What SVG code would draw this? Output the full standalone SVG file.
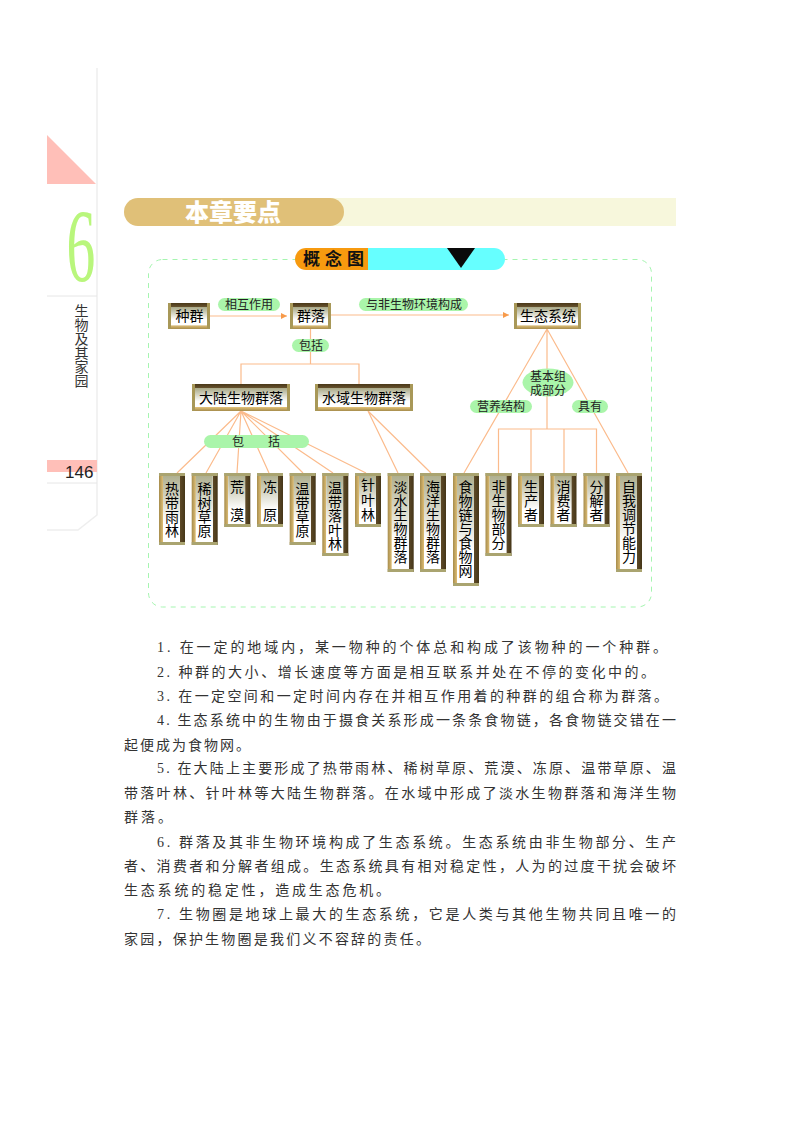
<svg xmlns="http://www.w3.org/2000/svg" width="800" height="1132" viewBox="0 0 800 1132">
<style>
text{font-family:"Noto Sans CJK SC","Liberation Sans",sans-serif;fill:#111}
.vb{fill:url(#vb)}.vs{fill:#aaa470}.vf{fill:url(#vf)}
.hb{fill:url(#hb)}.hs{fill:#a89858}.hf{fill:url(#hf)}
.vl{font-size:14px;font-weight:400;fill:#000;writing-mode:vertical-rl;text-orientation:upright}
.hl{font-size:14px;font-weight:400;fill:#000;text-anchor:middle}
.p{fill:#aaf5aa}
.pl{font-size:12px;text-anchor:middle;fill:#222}
.pw{font-family:"Liberation Sans","Noto Sans CJK SC",sans-serif}
.c{fill:none;stroke:#fbbb8c;stroke-width:1.200}
.b{font-family:"Liberation Serif","Noto Sans CJK SC",serif;font-size:14px;fill:#333}
.e{fill:none;stroke:#eeeeee;stroke-width:1.500}
</style>
<defs>
<linearGradient id="vb"><stop offset="0" stop-color="#a68c4c"/><stop offset=".15" stop-color="#dcbc74"/><stop offset=".16" stop-color="#eee"/><stop offset=".8" stop-color="#eee"/><stop offset=".81" stop-color="#5e4a28"/><stop offset="1" stop-color="#453618"/></linearGradient>
<linearGradient id="vf" x1="0" y1="0" x2="0" y2="1"><stop offset="0" stop-color="#b0b090"/><stop offset=".7" stop-color="#fff"/><stop offset="1" stop-color="#fff"/></linearGradient>
<linearGradient id="hb" x1="0" y1="0" x2="0" y2="1"><stop offset="0" stop-color="#4a3818"/><stop offset=".14" stop-color="#64502c"/><stop offset=".15" stop-color="#eee"/><stop offset=".86" stop-color="#eee"/><stop offset=".87" stop-color="#dcbc74"/><stop offset="1" stop-color="#a68c4c"/></linearGradient>
<linearGradient id="hf" x1="0" y1="0" x2="0" y2="1"><stop offset="0" stop-color="#a9a987"/><stop offset=".7" stop-color="#fff"/><stop offset="1" stop-color="#fff"/></linearGradient>
<marker id="ar" markerUnits="userSpaceOnUse" markerWidth="7" markerHeight="6" refX="6" refY="3" orient="auto"><path d="M0 0L6 3L0 6z" fill="#f79a4a"/></marker>
</defs>
<rect width="800" height="1132" fill="#fff"/>

<g id="sidebar">
<path class="e" d="M97 68V515L78 530H47"/>
<path d="M47 135L96 184H47z" fill="#ffbfb8"/>
<text transform="translate(66.500 281) scale(.6 1.08)" style="font-family:'Liberation Serif',serif;font-size:96px;fill:#b9f67c">6</text>
<path d="M47 296H97" stroke="#e6e6e6" fill="none"/>
<text x="81.500" y="304" style="font-size:14px;fill:#333;writing-mode:vertical-rl;text-orientation:upright">生物及其家园</text>
<rect x="47" y="460" width="50" height="12" fill="#ffbfb8"/>
<path d="M47 483H97" stroke="#e6e6e6" fill="none"/>
<text x="65" y="478" style="font-family:'Liberation Sans',sans-serif;font-size:17px;fill:#222">146</text>
</g>

<g id="header">
<rect x="300" y="198" width="376" height="28" fill="#f7f7dc"/>
<rect x="124" y="198" width="220" height="28" rx="14" fill="#e0c078"/>
<text x="185" y="221" style="font-size:24px;font-weight:900;fill:#fff">本章要点</text>
</g>

<rect id="frame" x="148.500" y="259.500" width="503" height="347.500" rx="14" fill="none" stroke="#a5f5b0" stroke-width="1" stroke-dasharray="5 5"/>

<g id="title">
<path d="M368 248H494a11 11 0 0 1 0 22H368z" fill="#66ffff"/>
<path d="M368 248H306a11 11 0 0 0 0 22H368z" fill="#f79a0f"/>
<path d="M447 248H475L461 268z" fill="#0a0a0a"/>
<text x="303" y="265" style="font-size:17px;font-weight:700;letter-spacing:5px;fill:#111">概念图</text>
</g>

<g id="connectors">
<path class="c" marker-end="url(#ar)" d="M209 316H287"/>
<path class="c" marker-end="url(#ar)" d="M331 315H509"/>
<path class="c" d="M310.500 329V364M241 384V364H359V384"/>
<path class="c" d="M241 411L177 473M241 411L206 473M241 411L237 473M241 411L269 473M241 411L303 473M241 411L333 473M241 411L366 473"/>
<path class="c" d="M368 411L398 473M368 411L431 473"/>
<path class="c" d="M547 329L464 473M547 329V429M547 329L628 473M498.500 473V429H596.500V473M531 429V473M564 429V473"/>
</g>

<g id="pills">
<g id="p-xianghu"><rect class="p" x="218" y="298" width="62" height="13" rx="6.500"/><text class="pl" x="249" y="309">相互作用</text></g>
<g id="p-yufei"><rect class="p" x="359" y="298" width="109" height="13" rx="6.500"/><text class="pl" x="414" y="309">与非生物环境构成</text></g>
<g id="p-baokuo1"><rect class="p" x="292" y="339" width="37" height="13" rx="6.500"/><text class="pl" x="311" y="350">包括</text></g>
<g id="p-baokuo2"><rect class="p" x="204" y="435" width="105" height="13" rx="6.500"/><text class="pl" x="238" y="446">包</text><text class="pl" x="274" y="446">括</text></g>
<g id="p-jiben"><ellipse class="p" cx="548" cy="382.500" rx="25.500" ry="14"/><text class="pl pw"><tspan x="548" y="380.500">基本组</tspan><tspan x="548" y="394.500">成部分</tspan></text></g>
<g id="p-yingyang"><rect class="p" x="470" y="400" width="62" height="13" rx="6.500"/><text class="pl" x="501" y="411">营养结构</text></g>
<g id="p-juyou"><rect class="p" x="572" y="400" width="36" height="13" rx="6.500"/><text class="pl" x="590" y="411">具有</text></g>
</g>

<g id="n-zhongqun"><rect class="hb" x="168" y="303" width="42" height="26"/><rect class="hs" x="168" y="303" width="3" height="26"/><rect class="hs" x="207" y="303" width="3" height="26"/><rect class="hf" x="171" y="307" width="36" height="18"/><text class="hl" x="189.500" y="321">种群</text></g>
<g id="n-qunluo"><rect class="hb" x="290" y="303" width="41" height="26"/><rect class="hs" x="290" y="303" width="3" height="26"/><rect class="hs" x="328" y="303" width="3" height="26"/><rect class="hf" x="293" y="307" width="35" height="18"/><text class="hl" x="311" y="321">群落</text></g>
<g id="n-shengtai"><rect class="hb" x="514" y="303" width="67" height="26"/><rect class="hs" x="514" y="303" width="3" height="26"/><rect class="hs" x="578" y="303" width="3" height="26"/><rect class="hf" x="517" y="307" width="61" height="18"/><text class="hl" x="548" y="321">生态系统</text></g>
<g id="n-dalu"><rect class="hb" x="192" y="384" width="98" height="27"/><rect class="hs" x="192" y="384" width="3" height="27"/><rect class="hs" x="287" y="384" width="3" height="27"/><rect class="hf" x="195" y="388" width="92" height="19"/><text class="hl" x="241" y="403">大陆生物群落</text></g>
<g id="n-shuiyu"><rect class="hb" x="315" y="384" width="98" height="27"/><rect class="hs" x="315" y="384" width="3" height="27"/><rect class="hs" x="410" y="384" width="3" height="27"/><rect class="hf" x="318" y="388" width="92" height="19"/><text class="hl" x="364" y="403">水域生物群落</text></g>

<g id="n-redai"><rect class="vb" x="159" y="473" width="26" height="72"/><rect class="vs" x="159" y="473" width="26" height="3"/><rect class="vs" x="159" y="542" width="26" height="3"/><rect class="vf" x="163" y="476" width="17" height="66"/><text class="vl" x="172" y="482">热带雨林</text></g>
<g id="n-xishu"><rect class="vb" x="191.700" y="473" width="26" height="72"/><rect class="vs" x="191.700" y="473" width="26" height="3"/><rect class="vs" x="191.700" y="542" width="26" height="3"/><rect class="vf" x="195.700" y="476" width="17" height="66"/><text class="vl" x="204.500" y="482">稀树草原</text></g>
<g id="n-huangmo"><rect class="vb" x="224.300" y="473" width="26" height="54"/><rect class="vs" x="224.300" y="473" width="26" height="3"/><rect class="vs" x="224.300" y="524" width="26" height="3"/><rect class="vf" x="228.300" y="476" width="17" height="48"/><text class="vl" x="237" y="480">荒　漠</text></g>
<g id="n-dongyuan"><rect class="vb" x="257" y="473" width="26" height="54"/><rect class="vs" x="257" y="473" width="26" height="3"/><rect class="vs" x="257" y="524" width="26" height="3"/><rect class="vf" x="261" y="476" width="17" height="48"/><text class="vl" x="270" y="480">冻　原</text></g>
<g id="n-wendaicao"><rect class="vb" x="289.700" y="473" width="26" height="72"/><rect class="vs" x="289.700" y="473" width="26" height="3"/><rect class="vs" x="289.700" y="542" width="26" height="3"/><rect class="vf" x="293.700" y="476" width="17" height="66"/><text class="vl" x="302.500" y="482">温带草原</text></g>
<g id="n-wendailuo"><rect class="vb" x="322.300" y="473" width="26" height="83"/><rect class="vs" x="322.300" y="473" width="26" height="3"/><rect class="vs" x="322.300" y="553" width="26" height="3"/><rect class="vf" x="326.300" y="476" width="17" height="77"/><text class="vl" x="335" y="481">温带落叶林</text></g>
<g id="n-zhenye"><rect class="vb" x="355" y="473" width="26" height="54"/><rect class="vs" x="355" y="473" width="26" height="3"/><rect class="vs" x="355" y="524" width="26" height="3"/><rect class="vf" x="359" y="476" width="17" height="48"/><text class="vl" x="368" y="478" style="letter-spacing:1px">针叶林</text></g>
<g id="n-danshui"><rect class="vb" x="387.700" y="473" width="26" height="99"/><rect class="vs" x="387.700" y="473" width="26" height="3"/><rect class="vs" x="387.700" y="569" width="26" height="3"/><rect class="vf" x="391.700" y="476" width="17" height="93"/><text class="vl" x="400.500" y="480">淡水生物群落</text></g>
<g id="n-haiyang"><rect class="vb" x="420" y="473" width="26" height="99"/><rect class="vs" x="420" y="473" width="26" height="3"/><rect class="vs" x="420" y="569" width="26" height="3"/><rect class="vf" x="424" y="476" width="17" height="93"/><text class="vl" x="433" y="480">海洋生物群落</text></g>
<g id="n-shiwu"><rect class="vb" x="453" y="473" width="26" height="113"/><rect class="vs" x="453" y="473" width="26" height="3"/><rect class="vs" x="453" y="583" width="26" height="3"/><rect class="vf" x="457" y="476" width="17" height="107"/><text class="vl" x="465.500" y="480">食物链与食物网</text></g>
<g id="n-feisheng"><rect class="vb" x="485.500" y="473" width="26" height="83"/><rect class="vs" x="485.500" y="473" width="26" height="3"/><rect class="vs" x="485.500" y="553" width="26" height="3"/><rect class="vf" x="489.500" y="476" width="17" height="77"/><text class="vl" x="498.500" y="480">非生物部分</text></g>
<g id="n-shengchan"><rect class="vb" x="518" y="473" width="26" height="54"/><rect class="vs" x="518" y="473" width="26" height="3"/><rect class="vs" x="518" y="524" width="26" height="3"/><rect class="vf" x="522" y="476" width="17" height="48"/><text class="vl" x="531" y="480">生产者</text></g>
<g id="n-xiaofei"><rect class="vb" x="550.500" y="473" width="26" height="54"/><rect class="vs" x="550.500" y="473" width="26" height="3"/><rect class="vs" x="550.500" y="524" width="26" height="3"/><rect class="vf" x="554.500" y="476" width="17" height="48"/><text class="vl" x="563.500" y="480">消费者</text></g>
<g id="n-fenjie"><rect class="vb" x="583.500" y="473" width="26" height="54"/><rect class="vs" x="583.500" y="473" width="26" height="3"/><rect class="vs" x="583.500" y="524" width="26" height="3"/><rect class="vf" x="587.500" y="476" width="17" height="48"/><text class="vl" x="596.500" y="480">分解者</text></g>
<g id="n-ziwo"><rect class="vb" x="616" y="473" width="26" height="99"/><rect class="vs" x="616" y="473" width="26" height="3"/><rect class="vs" x="616" y="569" width="26" height="3"/><rect class="vf" x="620" y="476" width="17" height="93"/><text class="vl" x="629" y="480">自我调节能力</text></g>

<g id="body">
<text class="b" x="157" y="652" textLength="510">1. 在一定的地域内，某一物种的个体总和构成了该物种的一个种群。</text>
<text class="b" x="157" y="677" textLength="498">2. 种群的大小、增长速度等方面是相互联系并处在不停的变化中的。</text>
<text class="b" x="157" y="701" textLength="511">3. 在一定空间和一定时间内存在并相互作用着的种群的组合称为群落。</text>
<text class="b" x="157" y="725" textLength="519">4. 生态系统中的生物由于摄食关系形成一条条食物链，各食物链交错在一</text>
<text class="b" x="124" y="750" textLength="126">起便成为食物网。</text>
<text class="b" x="157" y="773" textLength="519">5. 在大陆上主要形成了热带雨林、稀树草原、荒漠、冻原、温带草原、温</text>
<text class="b" x="124" y="798" textLength="552">带落叶林、针叶林等大陆生物群落。在水域中形成了淡水生物群落和海洋生物</text>
<text class="b" x="124" y="822" textLength="48">群落。</text>
<text class="b" x="157" y="847" textLength="519">6. 群落及其非生物环境构成了生态系统。生态系统由非生物部分、生产</text>
<text class="b" x="124" y="871" textLength="552">者、消费者和分解者组成。生态系统具有相对稳定性，人为的过度干扰会破坏</text>
<text class="b" x="124" y="895" textLength="266">生态系统的稳定性，造成生态危机。</text>
<text class="b" x="157" y="919" textLength="519">7. 生物圈是地球上最大的生态系统，它是人类与其他生物共同且唯一的</text>
<text class="b" x="124" y="944" textLength="306">家园，保护生物圈是我们义不容辞的责任。</text>
</g>
</svg>
